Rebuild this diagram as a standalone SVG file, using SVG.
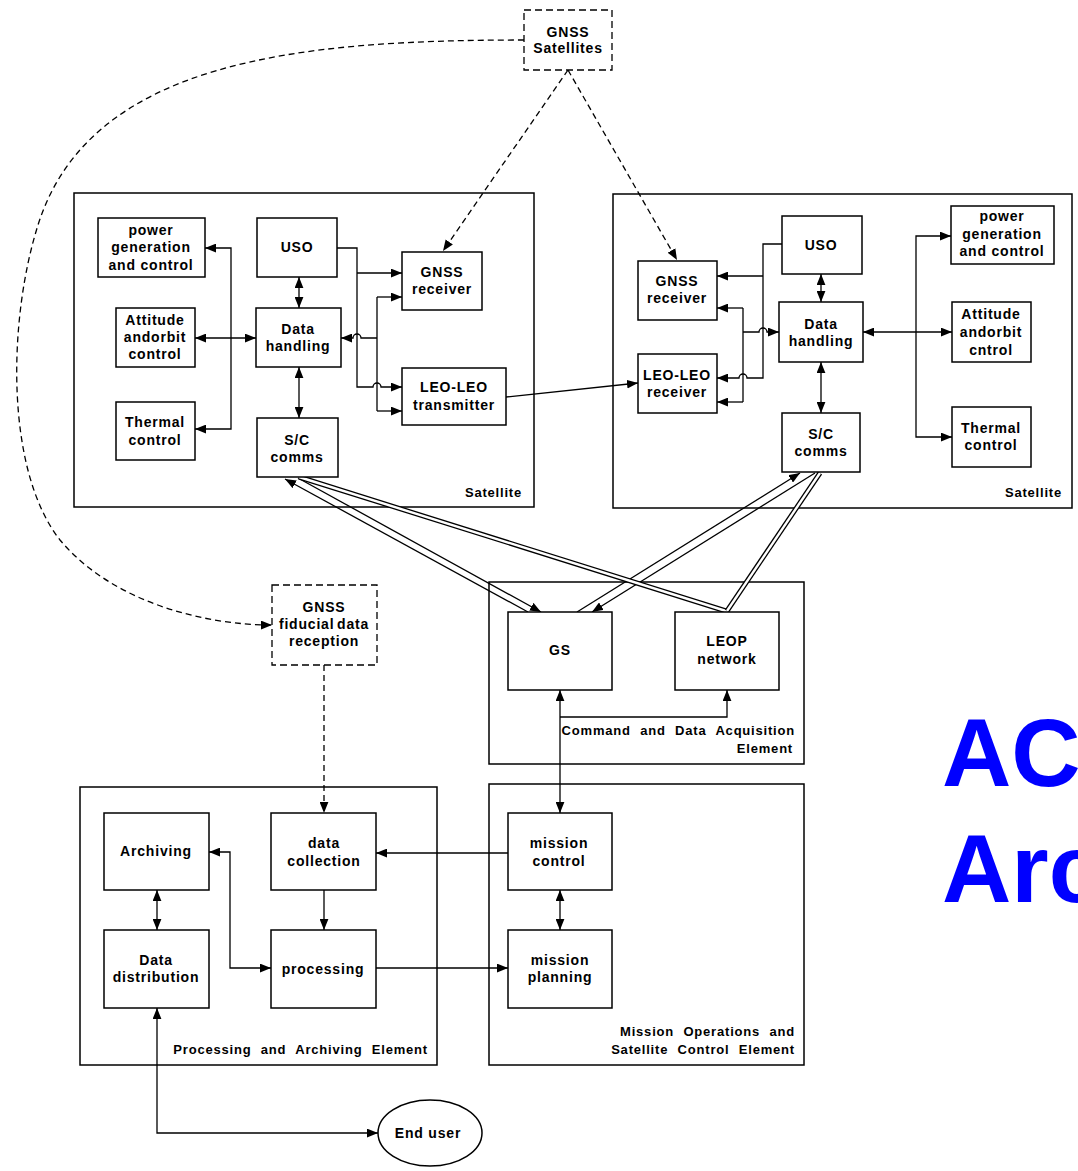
<svg xmlns="http://www.w3.org/2000/svg" width="1078" height="1171" viewBox="0 0 1078 1171">
<style>
.box{fill:#fff;stroke:#000;stroke-width:1.5}
.cont{fill:none;stroke:#000;stroke-width:1.5}
.dbox{fill:#fff;stroke:#000;stroke-width:1.3;stroke-dasharray:7 4}
.t{font-family:"Liberation Sans",Arial,sans-serif;font-weight:bold;font-size:14px;letter-spacing:0.8px;text-anchor:middle;fill:#000}
.lbl{font-family:"Liberation Sans",Arial,sans-serif;font-weight:bold;font-size:13px;letter-spacing:0.8px;text-anchor:end;fill:#000;word-spacing:5px}
.ln{fill:none;stroke:#000;stroke-width:1.3}
.dl{stroke-dasharray:6 4}
.hb{fill:none;stroke:#000;stroke-width:5}
.hw{fill:none;stroke:#fff;stroke-width:2.4}
.big{font-family:"Liberation Sans",Arial,sans-serif;font-weight:bold;font-size:96px;fill:#0000ff}
</style>
<defs>
<marker id="a" viewBox="0 0 10 8" refX="10" refY="4" markerWidth="11" markerHeight="9" markerUnits="userSpaceOnUse" orient="auto-start-reverse"><path d="M0,0L10,4L0,8z" fill="#000" stroke="none"/></marker>
</defs>

<!-- containers -->
<g id="satellite-left"><rect class="cont" x="74" y="193" width="460" height="314"/><text class="lbl" x="522" y="497">Satellite</text></g>
<g id="satellite-right"><rect class="cont" x="613" y="194" width="459" height="314"/><text class="lbl" x="1062" y="497">Satellite</text></g>
<g id="cdae"><rect class="cont" x="489" y="582" width="315" height="182"/><text class="lbl" x="795" y="735">Command and Data Acquisition</text><text class="lbl" x="793" y="753">Element</text></g>
<g id="pae"><rect class="cont" x="80" y="787" width="357" height="278"/><text class="lbl" x="428" y="1054">Processing and Archiving Element</text></g>
<g id="mosce"><rect class="cont" x="489" y="784" width="315" height="281"/><text class="lbl" x="795" y="1036">Mission Operations and</text><text class="lbl" x="795" y="1054">Satellite Control Element</text></g>

<!-- connectors -->
<g id="connectors">
<!-- left satellite -->
<path class="ln" d="M205,248H231V429H195" marker-start="url(#a)" marker-end="url(#a)"/>
<path class="ln" d="M195,338H256" marker-start="url(#a)" marker-end="url(#a)"/>
<path class="ln" d="M299,277V308" marker-start="url(#a)" marker-end="url(#a)"/>
<path class="ln" d="M299,367V418" marker-start="url(#a)" marker-end="url(#a)"/>
<path class="ln" d="M337,248H357V387H373a4,4 0 0 1 8,0H402" marker-end="url(#a)"/>
<path class="ln" d="M357,273H402" marker-end="url(#a)"/>
<path class="ln" d="M377,297V411"/>
<path class="ln" d="M377,297H402" marker-end="url(#a)"/>
<path class="ln" d="M377,411H402" marker-end="url(#a)"/>
<path class="ln" d="M377,338H361a4,4 0 0 0 -8,0H341" marker-end="url(#a)"/>
<!-- right satellite -->
<path class="ln" d="M951,236H916V437H952" marker-start="url(#a)" marker-end="url(#a)"/>
<path class="ln" d="M863,332H952" marker-start="url(#a)" marker-end="url(#a)"/>
<path class="ln" d="M821,274V302" marker-start="url(#a)" marker-end="url(#a)"/>
<path class="ln" d="M821,362V413" marker-start="url(#a)" marker-end="url(#a)"/>
<path class="ln" d="M782,244H763V378H747a4,4 0 0 0 -8,0H717" marker-end="url(#a)"/>
<path class="ln" d="M763,276H717" marker-end="url(#a)"/>
<path class="ln" d="M743,308V402"/>
<path class="ln" d="M743,308H717" marker-end="url(#a)"/>
<path class="ln" d="M743,402H717" marker-end="url(#a)"/>
<path class="ln" d="M743,332H759a4,4 0 0 1 8,0H779" marker-end="url(#a)"/>
<!-- inter-satellite -->
<path class="ln" d="M506,397L638,383" marker-end="url(#a)"/>
<!-- space-ground links -->
<path class="ln" d="M528,612L285,479" marker-end="url(#a)"/>
<path class="ln" d="M298,478L541,612" marker-end="url(#a)"/>
<path class="ln" d="M577,612L800,473" marker-end="url(#a)"/>
<path class="ln" d="M815,473L592,612" marker-end="url(#a)"/>
<path class="hb" d="M299,477L726,611"/><path class="hw" d="M299,477L726,611"/>
<path class="hb" d="M820,473L727,611"/><path class="hw" d="M820,473L727,611"/>
<!-- GNSS dashed -->
<path class="ln dl" d="M568,70L443,251" marker-end="url(#a)"/>
<path class="ln dl" d="M568,70L677,260" marker-end="url(#a)"/>
<path class="ln dl" d="M524,40C300,40 90,60 38,225C8,320 5,470 60,540C110,600 200,625 272,625" marker-end="url(#a)"/>
<path class="ln dl" d="M324,665V813" marker-end="url(#a)"/>
<!-- ground -->
<path class="ln" d="M560,690V813" marker-start="url(#a)" marker-end="url(#a)"/>
<path class="ln" d="M560,717H727V690" marker-end="url(#a)"/>
<path class="ln" d="M508,853H376" marker-end="url(#a)"/>
<path class="ln" d="M324,890V930" marker-end="url(#a)"/>
<path class="ln" d="M157,890V930" marker-start="url(#a)" marker-end="url(#a)"/>
<path class="ln" d="M209,852H230V968H271" marker-start="url(#a)" marker-end="url(#a)"/>
<path class="ln" d="M376,968H508" marker-end="url(#a)"/>
<path class="ln" d="M560,890V930" marker-start="url(#a)" marker-end="url(#a)"/>
<path class="ln" d="M157,1008V1133H378" marker-start="url(#a)" marker-end="url(#a)"/>
</g>

<!-- nodes -->
<g id="gnss-satellites"><rect class="dbox" x="524" y="10" width="88" height="60"/><text class="t" x="568" y="37">GNSS</text><text class="t" x="568" y="53">Satellites</text></g>

<g id="l-power"><rect class="box" x="98" y="218" width="107" height="59"/><text class="t" x="151" y="235">power</text><text class="t" x="151" y="252">generation</text><text class="t" x="151" y="270">and control</text></g>
<g id="l-attitude"><rect class="box" x="116" y="308" width="79" height="59"/><text class="t" x="155" y="325">Attitude</text><text class="t" x="155" y="342">andorbit</text><text class="t" x="155" y="359">control</text></g>
<g id="l-thermal"><rect class="box" x="116" y="402" width="79" height="58"/><text class="t" x="155" y="427">Thermal</text><text class="t" x="155" y="445">control</text></g>
<g id="l-uso"><rect class="box" x="257" y="218" width="80" height="59"/><text class="t" x="297" y="252">USO</text></g>
<g id="l-dh"><rect class="box" x="256" y="308" width="85" height="59"/><text class="t" x="298" y="334">Data</text><text class="t" x="298" y="351">handling</text></g>
<g id="l-sc"><rect class="box" x="257" y="418" width="81" height="59"/><text class="t" x="297" y="445">S/C</text><text class="t" x="297" y="462">comms</text></g>
<g id="l-gnss"><rect class="box" x="402" y="252" width="80" height="58"/><text class="t" x="442" y="277">GNSS</text><text class="t" x="442" y="294">receiver</text></g>
<g id="l-leo"><rect class="box" x="402" y="368" width="104" height="57"/><text class="t" x="454" y="392">LEO-LEO</text><text class="t" x="454" y="410">transmitter</text></g>

<g id="r-gnss"><rect class="box" x="638" y="261" width="79" height="59"/><text class="t" x="677" y="286">GNSS</text><text class="t" x="677" y="303">receiver</text></g>
<g id="r-leo"><rect class="box" x="638" y="354" width="79" height="59"/><text class="t" x="677" y="380">LEO-LEO</text><text class="t" x="677" y="397">receiver</text></g>
<g id="r-uso"><rect class="box" x="782" y="216" width="80" height="58"/><text class="t" x="821" y="250">USO</text></g>
<g id="r-dh"><rect class="box" x="779" y="302" width="84" height="60"/><text class="t" x="821" y="329">Data</text><text class="t" x="821" y="346">handling</text></g>
<g id="r-sc"><rect class="box" x="782" y="413" width="78" height="59"/><text class="t" x="821" y="439">S/C</text><text class="t" x="821" y="456">comms</text></g>
<g id="r-power"><rect class="box" x="951" y="206" width="103" height="58"/><text class="t" x="1002" y="221">power</text><text class="t" x="1002" y="239">generation</text><text class="t" x="1002" y="256">and control</text></g>
<g id="r-attitude"><rect class="box" x="952" y="302" width="79" height="60"/><text class="t" x="991" y="319">Attitude</text><text class="t" x="991" y="337">andorbit</text><text class="t" x="991" y="355">cntrol</text></g>
<g id="r-thermal"><rect class="box" x="952" y="407" width="79" height="60"/><text class="t" x="991" y="433">Thermal</text><text class="t" x="991" y="450">control</text></g>

<g id="fiducial"><rect class="dbox" x="272" y="585" width="105" height="80"/><text class="t" x="324" y="612">GNSS</text><text class="t" x="324" y="629" word-spacing="-2px">fiducial data</text><text class="t" x="324" y="646">reception</text></g>
<g id="gs"><rect class="box" x="508" y="612" width="104" height="78"/><text class="t" x="560" y="655">GS</text></g>
<g id="leop"><rect class="box" x="675" y="612" width="104" height="78"/><text class="t" x="727" y="646">LEOP</text><text class="t" x="727" y="664">network</text></g>

<g id="archiving"><rect class="box" x="104" y="813" width="105" height="77"/><text class="t" x="156" y="856">Archiving</text></g>
<g id="data-collection"><rect class="box" x="271" y="813" width="105" height="77"/><text class="t" x="324" y="848">data</text><text class="t" x="324" y="866">collection</text></g>
<g id="data-distribution"><rect class="box" x="104" y="930" width="105" height="78"/><text class="t" x="156" y="965">Data</text><text class="t" x="156" y="982">distribution</text></g>
<g id="processing"><rect class="box" x="271" y="930" width="105" height="78"/><text class="t" x="323" y="974">processing</text></g>
<g id="mission-control"><rect class="box" x="508" y="813" width="104" height="77"/><text class="t" x="559" y="848">mission</text><text class="t" x="559" y="866">control</text></g>
<g id="mission-planning"><rect class="box" x="508" y="930" width="104" height="78"/><text class="t" x="560" y="965">mission</text><text class="t" x="560" y="982">planning</text></g>
<g id="end-user"><ellipse class="box" cx="430" cy="1133" rx="52" ry="33"/><text class="t" x="428" y="1138">End user</text></g>

<text class="big" x="942" y="786">AC</text>
<text class="big" x="942" y="902">Arc</text>
</svg>
